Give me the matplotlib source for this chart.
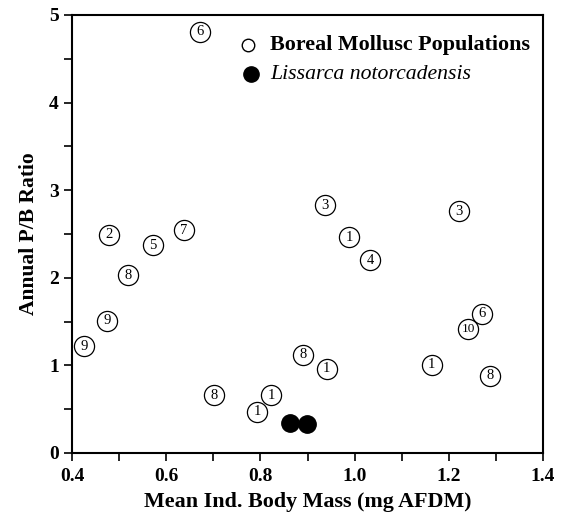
import matplotlib
matplotlib.use("Agg")
import matplotlib.pyplot as plt
from matplotlib.ticker import MultipleLocator, FormatStrFormatter

plt.rcParams['font.family'] = ['Liberation Serif', 'DejaVu Serif']

# Boreal mollusc populations
boreal_x = [0.672, 0.479, 0.572, 0.638, 0.519, 0.474, 0.425, 0.701, 0.793, 0.823,
            0.890, 0.941, 0.937, 0.988, 1.033, 1.222, 1.164, 1.241, 1.270, 1.287]
boreal_y = [4.81, 2.49, 2.37, 2.54, 2.03, 1.51, 1.22, 0.66, 0.47, 0.66,
            1.12, 0.96, 2.83, 2.46, 2.20, 2.76, 1.01, 1.41, 1.59, 0.88]
boreal_lab = ['6', '2', '5', '7', '8', '9', '9', '8', '1', '1',
              '8', '1', '3', '1', '4', '3', '1', '10', '6', '8']

# Lissarca notorcadensis
liss_x = [0.863, 0.899]
liss_y = [0.34, 0.33]

legend_labels = ['Boreal Mollusc Populations', 'Lissarca notorcadensis']

fig = plt.figure(figsize=(5.64, 5.18), dpi=100)
ax = fig.add_axes([0.1277, 0.1255, 0.8351, 0.8456])

ax.scatter(boreal_x, boreal_y, s=14.5**2, facecolors='white', edgecolors='black',
           linewidths=0.9, zorder=3)
for x, y, t in zip(boreal_x, boreal_y, boreal_lab):
    ax.text(x, y, t, ha='center', va='center', fontsize=10.5 if len(t) == 1 else 9.5,
            zorder=4)
ax.scatter(liss_x, liss_y, s=12.5**2, color='black', zorder=3)

ax.set_xlim(0.4, 1.4)
ax.set_ylim(0, 5)
ax.xaxis.set_major_locator(MultipleLocator(0.2))
ax.xaxis.set_minor_locator(MultipleLocator(0.1))
ax.yaxis.set_major_locator(MultipleLocator(1))
ax.yaxis.set_minor_locator(MultipleLocator(0.5))
ax.xaxis.set_major_formatter(FormatStrFormatter('%.1f'))
ax.tick_params(which='both', direction='out', width=1.2, length=6, labelsize=14)
ax.tick_params(axis='x', pad=5)
for lbl in ax.get_xticklabels() + ax.get_yticklabels():
    lbl.set_fontweight('bold')
for sp in ax.spines.values():
    sp.set_linewidth(1.5)

ax.set_xlabel('Mean Ind. Body Mass (mg AFDM)', fontsize=15.8, fontweight='bold', labelpad=5)
ax.set_ylabel('Annual P/B Ratio', fontsize=15.5, fontweight='bold', labelpad=7)

# Legend drawn manually in axes coordinates
ax.plot([0.374], [0.932], marker='o', ls='none', markerfacecolor='white',
        markeredgecolor='black', markersize=9, markeredgewidth=1.0,
        transform=ax.transAxes)
ax.plot([0.380], [0.865], marker='o', ls='none', color='black', markersize=11,
        transform=ax.transAxes)
ax.text(0.420, 0.932, legend_labels[0], transform=ax.transAxes, ha='left',
        va='center', fontsize=15.8, fontweight='bold')
ax.text(0.420, 0.865, legend_labels[1], transform=ax.transAxes, ha='left',
        va='center', fontsize=15.7, fontstyle='italic')

fig.savefig('out.png', dpi=100)
